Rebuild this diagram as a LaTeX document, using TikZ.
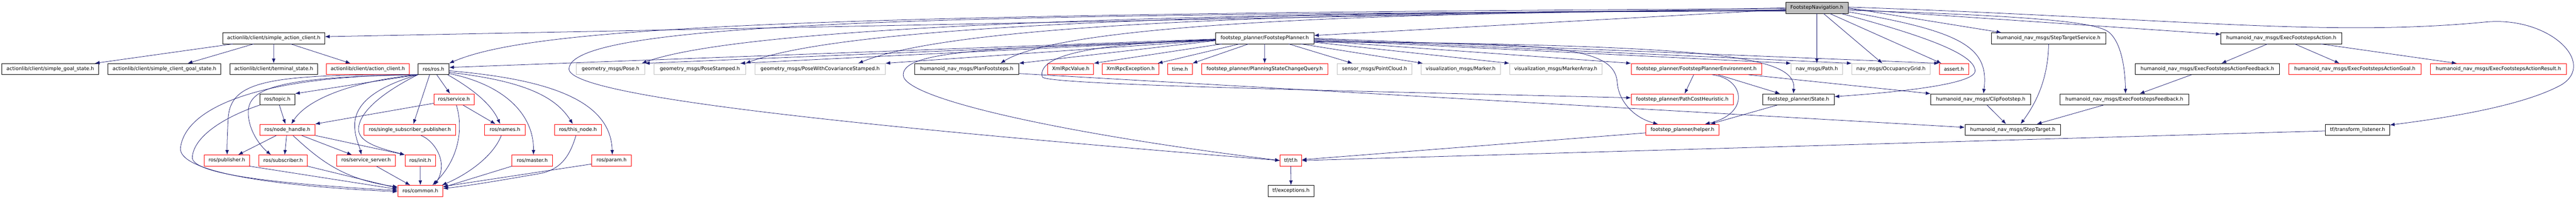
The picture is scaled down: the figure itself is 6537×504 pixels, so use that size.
\documentclass[tikz,border=0pt]{standalone}
\usepackage{fontspec}
\newfontfamily\hdrfont{DejaVu Sans}
\usepackage{tikz}
\usetikzlibrary{arrows.meta}
\definecolor{edgeblue}{HTML}{191970}
\definecolor{boxgray}{HTML}{BFBFBF}
\tikzset{
  hdr/.style={draw=black, line width=1pt, minimum height=28pt, inner sep=0pt,
    font=\hdrfont\fontsize{12.6}{15}\selectfont},
  hdrred/.style={hdr, draw=red},
  hdrgray/.style={hdr, draw=boxgray},
  hdrroot/.style={hdr, fill=boxgray},
  dep/.style={draw=edgeblue, line width=1pt, -{Latex[length=12pt,width=9pt]}}
}

\begin{document}
\begin{tikzpicture}[x=1pt, y=-1pt]
    % Parametri
    \pgfmathsetmacro{\yA}{20}
    \pgfmathsetmacro{\yB}{97}
    \pgfmathsetmacro{\yC}{175}
    \pgfmathsetmacro{\yD}{252}
    \pgfmathsetmacro{\yE}{329}
    \pgfmathsetmacro{\yF}{407}
    \pgfmathsetmacro{\yG}{484}
    \useasboundingbox (0,0) rectangle (6537,504);
    % Riga 0
    \node[hdrroot, minimum width=158.5pt] (nav) at (4610.6,\yA) {FootstepNavigation.h};
    % Riga 1
    \node[hdr, minimum width=258.9pt] (sac) at (694.6,\yB) {actionlib/client/simple\_action\_client.h};
    \node[hdr, minimum width=249.3pt] (fp) at (3209.4,\yB) {footstep\_planner/FootstepPlanner.h};
    \node[hdr, minimum width=290.6pt] (sts) at (5198.7,\yB) {humanoid\_nav\_msgs/StepTargetService.h};
    \node[hdr, minimum width=306.5pt] (efa) at (5789.2,\yB) {humanoid\_nav\_msgs/ExecFootstepsAction.h};
    % Riga 2
    \node[hdr, minimum width=245.4pt] (sgs) at (127.6,\yC) {actionlib/client/simple\_goal\_state.h};
    \node[hdr, minimum width=286.7pt] (scgs) at (417.3,\yC) {actionlib/client/simple\_client\_goal\_state.h};
    \node[hdr, minimum width=223.1pt] (ts) at (694.5,\yC) {actionlib/client/terminal\_state.h};
    \node[hdrred, minimum width=209.3pt] (ac) at (933.3,\yC) {actionlib/client/action\_client.h};
    \node[hdr, minimum width=78.6pt] (ros) at (1100.1,\yC) {ros/ros.h};
    \node[hdrgray, minimum width=173.4pt] (pose) at (1549.3,\yC) {geometry\_msgs/Pose.h};
    \node[hdrgray, minimum width=231.9pt] (poses) at (1776,\yC) {geometry\_msgs/PoseStamped.h};
    \node[hdrgray, minimum width=330.6pt] (posec) at (2081.1,\yC) {geometry\_msgs/PoseWithCovarianceStamped.h};
    \node[hdr, minimum width=264.2pt] (planf) at (2453.2,\yC) {humanoid\_nav\_msgs/PlanFootsteps.h};
    \node[hdrred, minimum width=116.4pt] (xval) at (2717.2,\yC) {XmlRpcValue.h};
    \node[hdrred, minimum width=142.9pt] (xexc) at (2869,\yC) {XmlRpcException.h};
    \node[hdrred, minimum width=62.6pt] (time) at (2994.4,\yC) {time.h};
    \node[hdrred, minimum width=320.5pt] (pscq) at (3209.2,\yC) {footstep\_planner/PlanningStateChangeQuery.h};
    \node[hdrgray, minimum width=190.5pt] (pcl) at (3488,\yC) {sensor\_msgs/PointCloud.h};
    \node[hdrgray, minimum width=201.6pt] (mark) at (3706.6,\yC) {visualization\_msgs/Marker.h};
    \node[hdrgray, minimum width=234.7pt] (marka) at (3948,\yC) {visualization\_msgs/MarkerArray.h};
    \node[hdrred, minimum width=331.2pt] (fpenv) at (4304.9,\yC) {footstep\_planner/FootstepPlannerEnvironment.h};
    \node[hdrgray, minimum width=130.3pt] (path) at (4610.5,\yC) {nav\_msgs/Path.h};
    \node[hdrgray, minimum width=198.8pt] (ogrid) at (4798.6,\yC) {nav\_msgs/OccupancyGrid.h};
    \node[hdrred, minimum width=75.1pt] (assert) at (4958.5,\yC) {assert.h};
    \node[hdr, minimum width=366.7pt] (efaf) at (5601.4,\yC) {humanoid\_nav\_msgs/ExecFootstepsActionFeedback.h};
    \node[hdrred, minimum width=335.9pt] (efag) at (5975.7,\yC) {humanoid\_nav\_msgs/ExecFootstepsActionGoal.h};
    \node[hdrred, minimum width=345.7pt] (efar) at (6340,\yC) {humanoid\_nav\_msgs/ExecFootstepsActionResult.h};
    % Riga 3
    \node[hdr, minimum width=88.9pt] (topic) at (703.9,\yD) {ros/topic.h};
    \node[hdrred, minimum width=102.5pt] (srv) at (1152,\yD) {ros/service.h};
    \node[hdrred, minimum width=259.3pt] (pch) at (4269,\yD) {footstep\_planner/PathCostHeuristic.h};
    \node[hdr, minimum width=181.7pt] (state) at (4563.9,\yD) {footstep\_planner/State.h};
    \node[hdr, minimum width=253.8pt] (clip) at (5026.3,\yD) {humanoid\_nav\_msgs/ClipFootstep.h};
    \node[hdr, minimum width=326.3pt] (eff) at (5390.8,\yD) {humanoid\_nav\_msgs/ExecFootstepsFeedback.h};
    % Riga 4
    \node[hdrred, minimum width=139.7pt] (nh) at (729.3,\yE) {ros/node\_handle.h};
    \node[hdrred, minimum width=232.1pt] (ssp) at (1040,\yE) {ros/single\_subscriber\_publisher.h};
    \node[hdrred, minimum width=102.9pt] (names) at (1281.2,\yE) {ros/names.h};
    \node[hdrred, minimum width=120pt] (thisn) at (1466.6,\yE) {ros/this\_node.h};
    \node[hdrred, minimum width=185.2pt] (helper) at (4269.4,\yE) {footstep\_planner/helper.h};
    \node[hdr, minimum width=242.7pt] (st) at (5107.7,\yE) {humanoid\_nav\_msgs/StepTarget.h};
    \node[hdr, minimum width=162.9pt] (tfl) at (5982.7,\yE) {tf/transform\_listener.h};
    % Riga 5
    \node[hdrred, minimum width=114.7pt] (pub) at (575.6,\yF) {ros/publisher.h};
    \node[hdrred, minimum width=123.1pt] (sub) at (718.5,\yF) {ros/subscriber.h};
    \node[hdrred, minimum width=149.5pt] (ssrv) at (929,\yF) {ros/service\_server.h};
    \node[hdrred, minimum width=77.1pt] (init) at (1066.4,\yF) {ros/init.h};
    \node[hdrred, minimum width=102.9pt] (master) at (1350.7,\yF) {ros/master.h};
    \node[hdrred, minimum width=100.5pt] (param) at (1551.8,\yF) {ros/param.h};
    \node[hdrred, minimum width=54.5pt] (tf) at (3275.7,\yF) {tf/tf.h};
    % Riga 6
    \node[hdrred, minimum width=114.7pt] (common) at (1066.7,\yG) {ros/common.h};
    \node[hdr, minimum width=116.1pt] (tfexc) at (3276,\yG) {tf/exceptions.h};
    % FootstepNavigation.h
    \draw[dep] (nav.west) -- ([yshift=4pt]sac.east);
    \draw[dep] ([yshift=-4pt]nav.west) -- ([yshift=7pt]fp.east);
    \draw[dep] ([yshift=-2pt]nav.west) .. controls (2000,35) and (1350,70) .. (ros.north east);
    \draw[dep] ([yshift=-6pt]nav.west) .. controls (3500,30) and (1950,45) .. ([xshift=-8pt]pose.north east);
    \draw[dep] ([yshift=-6pt]nav.west) .. controls (3500,30) and (2200,45) .. (poses.north east);
    \draw[dep] ([yshift=-6pt]nav.west) .. controls (3500,30) and (2450,50) .. ([xshift=-69pt]posec.north east);
    \draw[dep] ([yshift=-6pt]nav.west) .. controls (3500,30) and (2700,60) .. ([xshift=-47pt]planf.north east);
    \draw[dep] ([yshift=-8pt]nav.west) .. controls (2500,35) and (1444,50) .. (1444,175) .. controls (1444,250) and (2300,330) .. (tf.west);
    \draw[dep] (nav.south) -- (path.north);
    \draw[dep] ([xshift=17pt]nav.south) -- ([xshift=-22pt]ogrid.north);
    \draw[dep] ([xshift=33pt]nav.south) -- ([xshift=6pt]assert.north west);
    \draw[dep] ([xshift=62pt]nav.south) .. controls (4900,95) and (5012,140) .. (5012,180) .. controls (5012,215) and (4800,235) .. ([yshift=7pt]state.east);
    \draw[dep] ([yshift=-10pt]nav.east) .. controls (4980,80) and (5048,120) .. ([xshift=7pt]clip.north);
    \draw[dep] (nav.east) -- ([xshift=-120pt]sts.north);
    \draw[dep] ([yshift=-3pt]nav.east) -- ([yshift=10pt]efa.west);
    \draw[dep] ([yshift=-6pt]nav.east) .. controls (5150,40) and (5320,55) .. (5352,82) .. controls (5385,110) and (5393,180) .. ([xshift=3pt]eff.north);
    \draw[dep] ([yshift=2pt]nav.east) .. controls (5500,45) and (5900,95) .. (6306,56) .. controls (6470,40) and (6590,160) .. (6500,215) .. controls (6400,270) and (6200,300) .. ([yshift=12pt]tfl.east);
    % FootstepPlanner.h
    \draw[dep] ([yshift=-2pt]fp.west) -- ([yshift=4pt]ros.east);
    \draw[dep] ([yshift=-4pt]fp.west) -- (pose.north east);
    \draw[dep] ([yshift=-4pt]fp.west) -- ([xshift=-14pt]poses.north east);
    \draw[dep] ([yshift=-5pt]fp.west) -- (posec.north east);
    \draw[dep] ([yshift=-6pt]fp.west) -- (planf.north east);
    \draw[dep] ([yshift=-3pt]fp.west) .. controls (2800,110) and (2630,135) .. (2645,195) .. controls (2647,215) and (3400,230) .. ([yshift=4pt]pch.west);
    \draw[dep] ([yshift=-6pt]fp.west) .. controls (2500,120) and (2292,130) .. (2292,190) .. controls (2292,250) and (2700,340) .. (tf.west);
    \draw[dep] ([xshift=-109pt]fp.south) -- (xval.north east);
    \draw[dep] ([xshift=-64pt]fp.south) -- ([xshift=-3pt]xexc.north east);
    \draw[dep] ([xshift=-41pt]fp.south) -- (time.north east);
    \draw[dep] (fp.south) -- (pscq.north);
    \draw[dep] ([xshift=61pt]fp.south) -- ([xshift=-56pt]pcl.north);
    \draw[dep] ([xshift=92pt]fp.south) -- ([xshift=5pt]mark.north west);
    \draw[dep] ([yshift=-10pt]fp.east) -- (marka.north west);
    \draw[dep] ([yshift=-6pt]fp.east) -- (fpenv.north west);
    \draw[dep] ([yshift=-4pt]fp.east) -- (path.north west);
    \draw[dep] ([yshift=-2pt]fp.east) -- (ogrid.north west);
    \draw[dep] (fp.east) -- (assert.north west);
    \draw[dep] ([yshift=-8pt]fp.east) .. controls (4350,115) and (4560,140) .. ([xshift=-13pt]state.north);
    \draw[dep] ([yshift=-10pt]fp.east) .. controls (3950,108) and (4098,118) .. (4104,210) .. controls (4108,260) and (4150,300) .. ([xshift=31pt]helper.north west);
    % footstep_planner
    \draw[dep] ([yshift=3pt]planf.south east) -- ([yshift=6pt]st.west);
    \draw[dep] ([xshift=-7pt]fpenv.south) -- ([xshift=6pt]pch.north);
    \draw[dep] ([xshift=55pt]fpenv.south) -- ([xshift=-47pt]state.north);
    \draw[dep] ([xshift=40pt]fpenv.south) .. controls (4430,200) and (4440,290) .. ([xshift=57pt]helper.north);
    \draw[dep] ([xshift=132pt]fpenv.south) -- (clip.north west);
    \draw[dep] ([xshift=-54pt]state.south) -- ([xshift=-22pt]helper.north east);
    \draw[dep] ([yshift=-8pt]helper.west) -- ([yshift=2pt]tf.east);
    \draw[dep] ([yshift=-3pt]tfl.west) -- (tf.east);
    \draw[dep] (tf.south) -- (tfexc.north);
    % humanoid_nav_msgs
    \draw[dep] ([xshift=-35pt]efa.south) -- ([xshift=36pt]efaf.north);
    \draw[dep] ([xshift=34pt]efa.south) -- ([xshift=-39pt]efag.north);
    \draw[dep] ([xshift=100pt]efa.south) -- ([xshift=-106pt]efar.north);
    \draw[dep] ([xshift=-40pt]efaf.south) -- ([xshift=39pt]eff.north);
    \draw[dep] ([xshift=-53pt]eff.south) -- ([xshift=61pt]st.north);
    \draw[dep] ([xshift=16pt]clip.south) -- ([xshift=-17pt]st.north);
    \draw[dep] (sts.south) .. controls (5197,210) and (5160,270) .. ([xshift=20pt]st.north);
    % actionlib
    \draw[dep] ([xshift=-104pt]sac.south) -- ([xshift=-10pt]sgs.north east);
    \draw[dep] ([xshift=-51pt]sac.south) -- ([xshift=59pt]scgs.north);
    \draw[dep] (sac.south) -- (ts.north);
    \draw[dep] ([xshift=43pt]sac.south) -- ([xshift=-44pt]ac.north);
    % ros/ros.h
    \draw[dep] (ros.south west) -- (topic.north east);
    \draw[dep] (ros.south west) .. controls (900,205) and (780,250) .. ([xshift=10pt]nh.north);
    \draw[dep] (ros.south west) .. controls (680,188) and (585,205) .. (579,300) .. controls (577,340) and (576,370) .. ([xshift=1pt]pub.north);
    \draw[dep] (ros.south west) .. controls (700,195) and (630,225) .. (630,285) .. controls (630,330) and (660,370) .. ([xshift=-31pt]sub.north);
    \draw[dep] (ros.south west) .. controls (940,225) and (899,270) .. (900,320) .. controls (901,350) and (912,370) .. ([xshift=-12pt]ssrv.north);
    \draw[dep] (ros.south west) .. controls (960,240) and (908,290) .. (910,330) .. controls (912,365) and (980,380) .. (init.north west);
    \draw[dep] ([xshift=30pt]ros.south west) -- ([xshift=9pt]ssp.north);
    \draw[dep] ([xshift=48pt]ros.south west) -- ([xshift=-10pt]srv.north);
    \draw[dep] ([xshift=-4pt]ros.south east) .. controls (1190,220) and (1245,260) .. ([xshift=-12pt]names.north);
    \draw[dep] ([yshift=3pt]ros.south east) .. controls (1280,215) and (1355,290) .. ([xshift=3pt]master.north);
    \draw[dep] ([yshift=6pt]ros.south east) .. controls (1330,205) and (1410,245) .. ([xshift=-13pt]thisn.north);
    \draw[dep] ([yshift=10pt]ros.south east) .. controls (1380,200) and (1550,250) .. ([xshift=2pt]param.north);
    \draw[dep] (ros.south west) .. controls (650,192) and (470,275) .. (458,375) .. controls (452,430) and (650,470) .. ([yshift=-2pt]common.west);
    % ros
    \draw[dep] ([xshift=5pt]topic.south) -- ([xshift=-5pt]nh.north);
    \draw[dep] (topic.south west) .. controls (560,300) and (490,350) .. (488,400) .. controls (490,440) and (680,465) .. ([yshift=1pt]common.west);
    \draw[dep] ([xshift=-28pt]nh.south) -- ([xshift=-29pt]pub.north east);
    \draw[dep] ([xshift=-2pt]nh.south) -- ([xshift=4pt]sub.north);
    \draw[dep] ([xshift=36pt]nh.south) -- ([xshift=-36pt]ssrv.north);
    \draw[dep] (nh.south east) -- (init.north west);
    \draw[dep] ([xshift=14pt]nh.south) .. controls (810,405) and (870,455) .. ([yshift=10pt]common.west);
    \draw[dep] ([yshift=-10pt]srv.west) -- (nh.north east);
    \draw[dep] ([xshift=23pt]srv.south) -- ([xshift=-24pt]names.north);
    \draw[dep] ([xshift=6pt]srv.south) .. controls (1175,320) and (1168,400) .. ([xshift=-27pt]common.north east);
    \draw[dep] ([xshift=28pt]ssp.south) .. controls (1100,355) and (1140,410) .. ([xshift=-22pt]common.north east);
    \draw[dep] (pub.south east) -- ([yshift=4pt]common.west);
    \draw[dep] (sub.south east) -- ([yshift=7pt]common.west);
    \draw[dep] ([xshift=26pt]ssrv.south) -- ([xshift=-26pt]common.north);
    \draw[dep] (init.south) -- (common.north);
    \draw[dep] ([xshift=-9pt]names.south) .. controls (1250,400) and (1180,445) .. ([xshift=-3pt]common.north east);
    \draw[dep] (master.south west) -- ([yshift=9pt]common.east);
    \draw[dep] ([xshift=-5pt]thisn.south) .. controls (1445,400) and (1420,432) .. (1365,441) .. controls (1300,452) and (1200,470) .. ([yshift=6pt]common.east);
    \draw[dep] ([yshift=-9pt]param.west) -- ([yshift=11pt]common.east);
\end{tikzpicture}
\end{document}
